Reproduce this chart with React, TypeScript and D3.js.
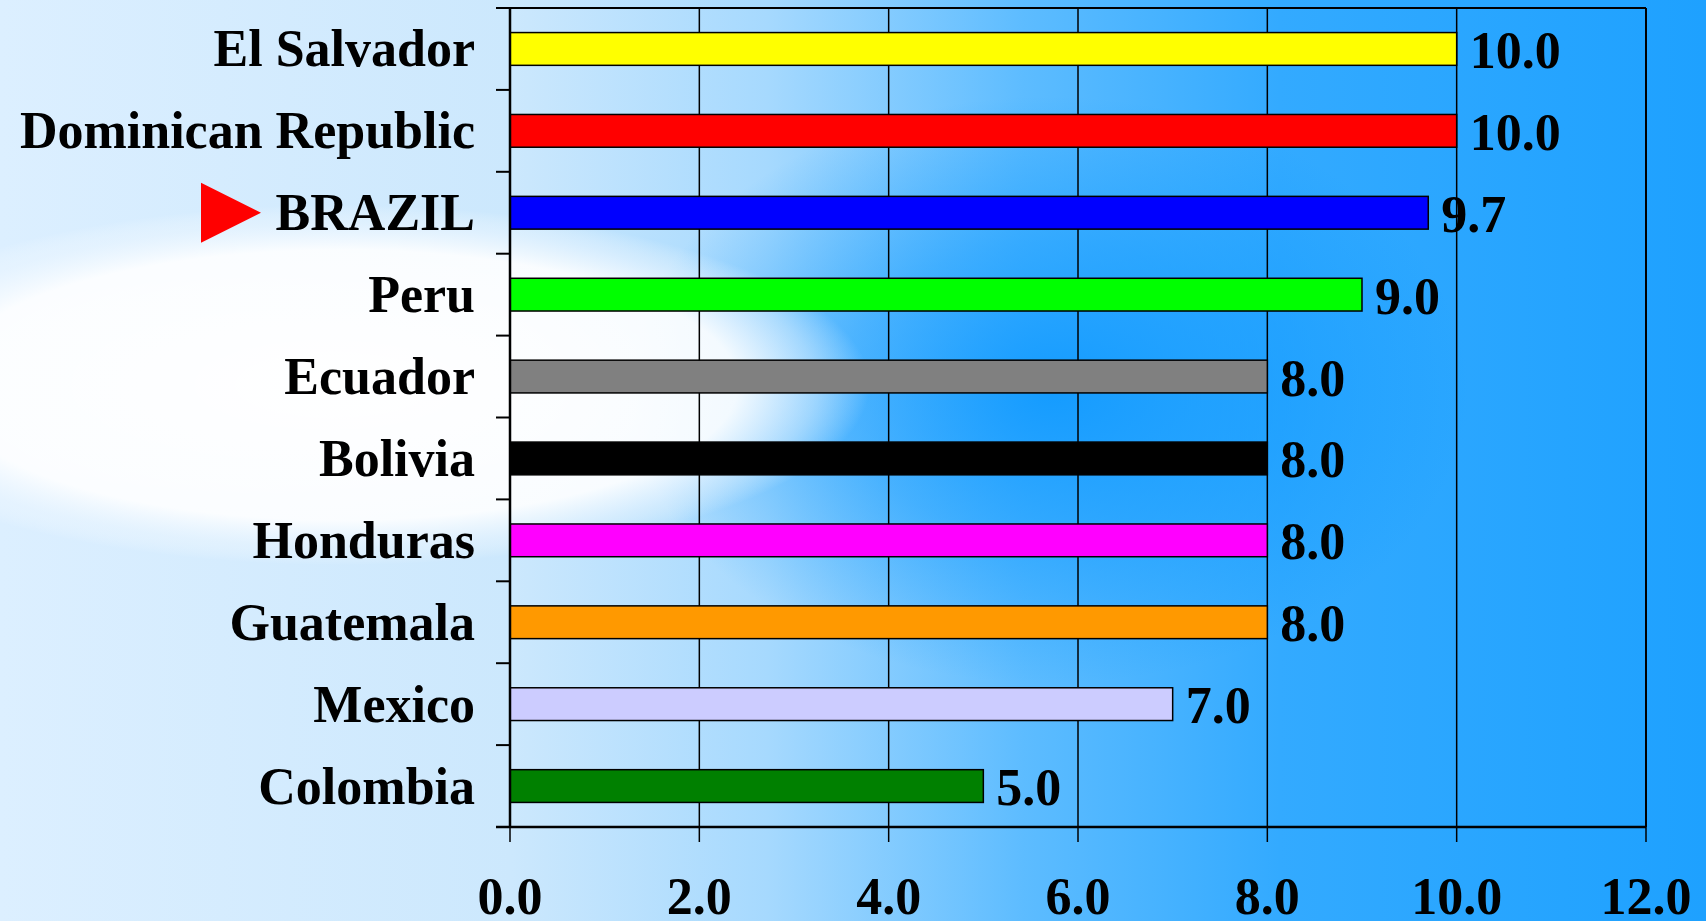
import React from "react";
import * as d3 from "d3";

const categories = [
  "El Salvador",
  "Dominican Republic",
  "BRAZIL",
  "Peru",
  "Ecuador",
  "Bolivia",
  "Honduras",
  "Guatemala",
  "Mexico",
  "Colombia",
];
const values = [10.0, 10.0, 9.7, 9.0, 8.0, 8.0, 8.0, 8.0, 7.0, 5.0];
const barColors = [
  "#FFFF00",
  "#FF0000",
  "#0000FF",
  "#00FF00",
  "#808080",
  "#000000",
  "#FF00FF",
  "#FF9900",
  "#CCCCFF",
  "#008000",
];
const xTicks = [0, 2, 4, 6, 8, 10, 12];
const highlighted = "BRAZIL";

const W = 1706;
const H = 921;
const left = 510;
const right = 1646;
const top = 8;
const bottom = 827;
const FONT = "'Liberation Serif', 'Times New Roman', serif";

export default function App() {
  const x = d3.scaleLinear().domain([0, 12]).range([left, right]);
  const y = d3
    .scaleBand<string>()
    .domain(categories)
    .range([top, bottom])
    .paddingInner(0.6)
    .paddingOuter(0.3);
  const bw = y.bandwidth();
  const step = y.step();
  const boundaries = d3.range(categories.length + 1).map((i) => top + i * step);
  const hy = (y(highlighted) as number) + bw / 2;

  return (
    <svg
      width={W}
      height={H}
      style={{ position: "absolute", left: 0, top: 0, display: "block" }}
      fontFamily={FONT}
    >
      <defs>
        <linearGradient id="bgLin" x1="0" y1="0" x2="1" y2="0">
          <stop offset="0" stopColor="#dcefff" />
          <stop offset="0.3" stopColor="#cce8fd" />
          <stop offset="0.45" stopColor="#a6d9fe" />
          <stop offset="0.6" stopColor="#5dbcff" />
          <stop offset="0.75" stopColor="#33aaff" />
          <stop offset="1" stopColor="#1ea1ff" />
        </linearGradient>
        <radialGradient
          id="bgWhite"
          cx="340"
          cy="385"
          r="530"
          gradientUnits="userSpaceOnUse"
          gradientTransform="translate(340 385) scale(1 0.34) translate(-340 -385)"
        >
          <stop offset="0" stopColor="#ffffff" stopOpacity="1" />
          <stop offset="0.75" stopColor="#ffffff" stopOpacity="0.9" />
          <stop offset="0.9" stopColor="#f0f8ff" stopOpacity="0.45" />
          <stop offset="1" stopColor="#ffffff" stopOpacity="0" />
        </radialGradient>
        <radialGradient
          id="bgBlue"
          cx="1050"
          cy="390"
          r="420"
          gradientUnits="userSpaceOnUse"
          gradientTransform="translate(1050 390) scale(1 0.7) translate(-1050 -390)"
        >
          <stop offset="0" stopColor="#0896ff" stopOpacity="0.85" />
          <stop offset="0.5" stopColor="#0c98ff" stopOpacity="0.5" />
          <stop offset="1" stopColor="#0c98ff" stopOpacity="0" />
        </radialGradient>
      </defs>
      <rect x={0} y={0} width={W} height={H} fill="url(#bgLin)" />
      <rect x={0} y={0} width={W} height={H} fill="url(#bgBlue)" />
      <rect x={0} y={0} width={W} height={H} fill="url(#bgWhite)" />

      {/* gridlines */}
      {xTicks.slice(1, -1).map((t) => (
        <line key={"g" + t} x1={x(t)} x2={x(t)} y1={top} y2={bottom} stroke="#000" strokeWidth={1.5} />
      ))}
      {/* frame top and right */}
      <line x1={left - 14} x2={right} y1={top} y2={top} stroke="#000" strokeWidth={2} />
      <line x1={right} x2={right} y1={top} y2={bottom} stroke="#000" strokeWidth={2} />

      {/* bars */}
      {categories.map((c, i) => (
        <rect
          key={c}
          x={x(0)}
          y={y(c)}
          width={x(values[i]) - x(0)}
          height={bw}
          fill={barColors[i]}
          stroke="#000"
          strokeWidth={1.5}
        />
      ))}

      {/* y axis */}
      <line x1={left} x2={left} y1={top} y2={bottom} stroke="#000" strokeWidth={2.5} />
      {boundaries.map((b, i) => (
        <line key={"yt" + i} x1={left - 14} x2={left} y1={b} y2={b} stroke="#000" strokeWidth={2} />
      ))}
      {/* x axis */}
      <line x1={left - 14} x2={right} y1={bottom} y2={bottom} stroke="#000" strokeWidth={2.5} />
      {xTicks.map((t) => (
        <line key={"xt" + t} x1={x(t)} x2={x(t)} y1={bottom} y2={bottom + 15} stroke="#000" strokeWidth={1.5} />
      ))}
      {xTicks.map((t) => (
        <text
          key={"xl" + t}
          x={x(t)}
          y={914}
          textAnchor="middle"
          fontSize={52}
          fontWeight="bold"
          fill="#000"
        >
          {t.toFixed(1)}
        </text>
      ))}

      {/* category labels */}
      {categories.map((c) => (
        <text
          key={"cl" + c}
          x={475}
          y={(y(c) as number) + bw / 2 + 17.5}
          textAnchor="end"
          fontSize={52}
          fontWeight="bold"
          fill="#000"
        >
          {c}
        </text>
      ))}

      {/* value labels */}
      {categories.map((c, i) => (
        <text
          key={"vl" + c}
          x={x(values[i]) + 13}
          y={(y(c) as number) + bw / 2 + 19}
          fontSize={52}
          fontWeight="bold"
          fill="#000"
        >
          {values[i].toFixed(1)}
        </text>
      ))}

      {/* highlight marker */}
      <polygon
        points={`201,${hy - 30} 261,${hy} 201,${hy + 30}`}
        fill="#FF0000"
      />
    </svg>
  );
}
